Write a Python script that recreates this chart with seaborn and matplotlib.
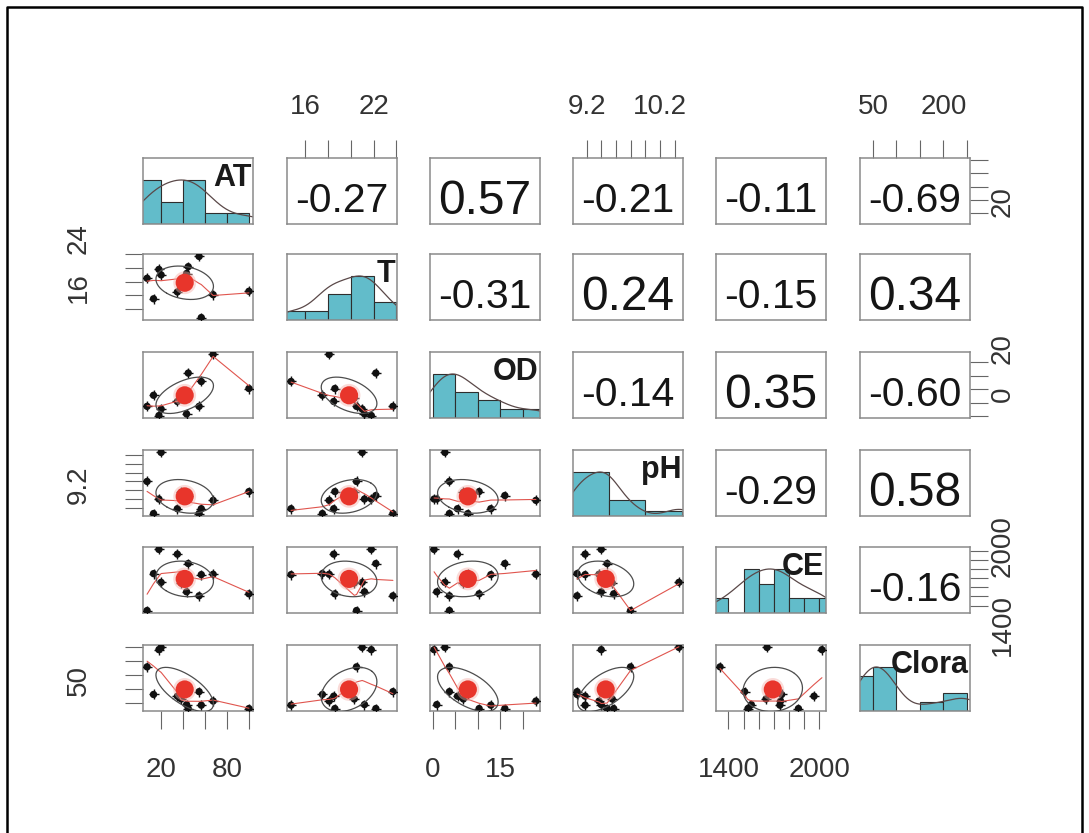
import numpy as np
import pandas as pd
import matplotlib
matplotlib.use("Agg")
import matplotlib.pyplot as plt
import seaborn as sns
from matplotlib.transforms import ScaledTranslation
from matplotlib.lines import Line2D

# ---------------- data ----------------
variables = ["AT", "T", "OD", "pH", "CE", "Clora"]
AT    = [54.4, 17.8, 19.8, 7.0, 44.5, 34.6, 67.2, 99.8, 12.9, 56.4, 38.0, 43.0]
T     = [23.7, 21.8, 21.0, 20.5, 22.2, 18.5, 18.1, 18.6, 17.5, 14.75, 20.3, 21.2]
OD    = [3.7, 0.3, 2.7, 3.7, 16.0, 5.5, 22.9, 10.3, 7.8, 12.9, 6.8, 0.9]
pH    = [9.07, 9.40, 10.46, 9.80, 9.48, 9.18, 9.37, 9.57, 9.07, 9.18, 9.55, 9.40]
CE    = [1507, 2017, 1655, 1345, 1862, 1965, 1744, 1529, 1751, 1740, 1648, 1551]
Clora = [91, 240, 248, 179, 31, 75, 57.6, 31, 81, 43, 65, 45]

# correlation labels shown in the upper panels (row variable -> later columns)
cor_AT = [-0.27, 0.57, -0.21, -0.11, -0.69]
cor_T = [-0.31, 0.24, -0.15, 0.34]
cor_OD = [-0.14, 0.35, -0.60]
cor_pH = [-0.29, 0.58]
cor_CE = [-0.16]

# histogram bin edges
AT_bins = [0, 20, 40, 60, 80, 100]
T_bins = [14, 16, 18, 20, 22, 24]
OD_bins = [0, 5, 10, 15, 20, 25]
pH_bins = [9.0, 9.5, 10.0, 10.5]
CE_bins = [1300, 1400, 1500, 1600, 1700, 1800, 1900, 2000, 2100]
Clora_bins = [0, 50, 100, 150, 200, 250]

# axis ticks and their labels
AT_ticks = [20, 40, 60, 80, 100]
T_ticks = [16, 18, 20, 22, 24]
OD_ticks = [0, 5, 10, 15, 20]
pH_ticks = [9.2, 9.4, 9.6, 9.8, 10.0, 10.2, 10.4]
CE_ticks = [1400, 1500, 1600, 1700, 1800, 1900, 2000]
Clora_ticks = [50, 100, 150, 200, 250]

bottom_labels = {"AT": ["20", "", "", "80", ""],
                 "OD": ["0", "", "", "15", ""],
                 "CE": ["1400", "", "", "", "", "", "2000"]}
top_labels = {"T": ["16", "", "", "22", ""],
              "pH": ["9.2", "", "", "", "", "10.2", ""],
              "Clora": ["50", "", "", "200", ""]}
left_labels = {"T": ["16", "", "", "", "24"],
               "pH": ["9.2", "", "", "", "", "", ""],
               "Clora": ["50", "", "", "", ""]}
right_labels = {"AT": ["20", "", "", "", ""],
                "OD": ["0", "", "", "", "20"],
                "CE": ["1400", "", "", "", "", "", "2000"]}

# layout: vertical lift (px) of the rotated side labels, as in the picture
left_lift = {"T": [21, 0, 0, 0, 16], "pH": [23, 0, 0, 0, 0, 0, 0], "Clora": [23, 0, 0, 0, 0]}
right_lift = {"AT": [11, 0, 0, 0, 0], "OD": [22, 0, 0, 0, 14], "CE": [-19, 0, 0, 0, 0, 0, 5]}

# ---------------- assemble ----------------
df = pd.DataFrame({"AT": AT, "T": T, "OD": OD, "pH": pH, "CE": CE, "Clora": Clora})
cors = {"AT": cor_AT, "T": cor_T, "OD": cor_OD, "pH": cor_pH, "CE": cor_CE}
bins = {"AT": AT_bins, "T": T_bins, "OD": OD_bins, "pH": pH_bins, "CE": CE_bins, "Clora": Clora_bins}
ticks = {"AT": AT_ticks, "T": T_ticks, "OD": OD_ticks, "pH": pH_ticks, "CE": CE_ticks, "Clora": Clora_ticks}

sns.set_style("white")
plt.rcParams["font.family"] = ["Liberation Sans", "DejaVu Sans"]

W, H = 1089, 833
DPI = 100
fig = plt.figure(figsize=(W / DPI, H / DPI), dpi=DPI)
fig.patch.set_facecolor("white")

col_left = [143, 287, 430, 573, 716, 860]
row_top = [158, 254, 352, 450, 547, 645]
pw, ph = 110, 66

hist_col = "#62BCCA"
box_col = "#8a8a8a"
tick_col = "#666666"
lab_col = "#333333"


def lim_of(v):
    v = np.asarray(v, float)
    r = v.max() - v.min()
    return v.min() - 0.04 * r, v.max() + 0.04 * r


lims = {k: lim_of(df[k]) for k in variables}


def lowess(x, y, f=2 / 3, iters=3):
    x = np.asarray(x, float)
    y = np.asarray(y, float)
    o = np.argsort(x, kind="mergesort")
    x, y = x[o], y[o]
    n = len(x)
    r = int(np.ceil(f * n))
    h = np.array([np.sort(np.abs(x - x[i]))[r - 1] for i in range(n)])
    h = np.maximum(h, 1e-12)
    w = np.clip(np.abs((x[None, :] - x[:, None]) / h[:, None]), 0, 1)
    w = (1 - w ** 3) ** 3
    yest = np.zeros(n)
    delta = np.ones(n)
    for _ in range(iters + 1):
        for i in range(n):
            wi = delta * w[i]
            A = np.vstack([np.ones(n), x]).T * np.sqrt(wi)[:, None]
            b = y * np.sqrt(wi)
            beta = np.linalg.lstsq(A, b, rcond=None)[0]
            yest[i] = beta[0] + beta[1] * x[i]
        res = y - yest
        s = np.median(np.abs(res))
        if s == 0:
            break
        dd = np.clip(res / (6 * s), -1, 1)
        delta = (1 - dd ** 2) ** 2
    return x, yest


def ellipse(xm, ym, xs, ys, r, seg=51):
    a = np.linspace(0, 2 * np.pi, seg + 1)
    th = np.sign(r) / np.sqrt(2) if abs(r) > 0 else 1 / np.sqrt(2)
    u = np.cos(a) * np.sqrt(1 + r)
    v = np.sin(a) * np.sqrt(1 - r)
    ex = (u - v) * th
    ey = (u + v) * th
    return ex * xs + xm, ey * ys + ym


def density(v):
    v = np.asarray(v, float)
    n = len(v)
    q75, q25 = np.percentile(v, [75, 25])
    bw = 1.06 * min(v.std(ddof=1), (q75 - q25) / 1.34) * n ** (-0.2)
    g = np.linspace(v.min() - 3 * bw, v.max() + 3 * bw, 512)
    d = np.exp(-0.5 * ((g[:, None] - v[None, :]) / bw) ** 2).sum(axis=1)
    return g, d / d.max()


renderer = fig.canvas.get_renderer()
axes = {}
for i, yv in enumerate(variables):
    for j, xv in enumerate(variables):
        l, t = col_left[j], row_top[i]
        ax = fig.add_axes([l / W, 1 - (t + ph) / H, pw / W, ph / H])
        axes[(i, j)] = ax
        ax.set_facecolor("white")
        for s in ax.spines.values():
            s.set_color(box_col)
            s.set_linewidth(1.1)
        ax.set_xlim(*lims[xv])
        if i == j:
            cnt, _ = np.histogram(df[xv], bins=bins[xv])
            sns.histplot(x=df[xv], bins=bins[xv], stat="count", color=hist_col,
                         edgecolor="#2e2e2e", linewidth=0.8, alpha=1, ax=ax)
            g, d = density(df[xv])
            ax.plot(g, d * cnt.max(), color="#5a4848", lw=0.9)
            ax.set_ylim(0, 1.5 * cnt.max())
            ax.text(0.985, 0.70, xv, transform=ax.transAxes, ha="right", va="center",
                    fontsize=22, fontweight="bold", color="#1a1a1a", zorder=6,
                    clip_on=False)
        elif i > j:
            ax.set_ylim(*lims[yv])
            x = df[xv].to_numpy(float)
            y = df[yv].to_numpy(float)
            sns.scatterplot(x=x, y=y, ax=ax, color="#111111", s=28, edgecolor="none",
                            linewidth=0, zorder=3)
            sns.scatterplot(x=x, y=y, ax=ax, color="#111111", s=55, marker="+",
                            linewidth=1.0, zorder=3)
            lx, ly = lowess(x, y)
            ax.plot(lx, ly, color="#E0554E", lw=0.8, zorder=4)
            r = np.corrcoef(x, y)[0, 1]
            ex, ey = ellipse(x.mean(), y.mean(), x.std(ddof=1), y.std(ddof=1), r)
            ax.plot(ex, ey, color="#4d4d4d", lw=0.9, zorder=4)
            sns.scatterplot(x=[x.mean()], y=[y.mean()], ax=ax, color="#F4B0AA", s=270,
                            edgecolor="none", alpha=0.45, zorder=5)
            sns.scatterplot(x=[x.mean()], y=[y.mean()], ax=ax, color="#E8352B", s=170,
                            edgecolor="none", zorder=6)
        else:
            ax.set_ylim(*lims[yv])
            val = cors[yv][j - i - 1]
            txt = f"{val:.2f}"
            tt = ax.text(0.5, 0.5, txt, transform=ax.transAxes, ha="center",
                         va="baseline", fontsize=30, color="#151515")
            wpx = tt.get_window_extent(renderer).width
            fs = 30 * 93.0 / wpx
            tt.set_fontsize(fs)
            cap = 0.716 * fs / 72 * DPI
            tt.set_transform(ax.transAxes + ScaledTranslation(0, -(6 + cap / 2) / DPI,
                                                              fig.dpi_scale_trans))
        ax.set_xlabel("")
        ax.set_ylabel("")
        ax.set_xticks([])
        ax.set_yticks([])

tp = dict(direction="out", length=13, width=0.8, color=tick_col,
          labelsize=20, labelcolor=lab_col)

for j, v in enumerate(variables):
    if v in bottom_labels:
        ax = axes[(5, j)]
        ax.set_xticks(ticks[v])
        ax.set_xticklabels(bottom_labels[v])
        ax.tick_params(axis="x", pad=20, bottom=True, top=False,
                       labelbottom=True, labeltop=False, **tp)
    if v in top_labels:
        ax = axes[(0, j)]
        ax.set_xticks(ticks[v])
        ax.set_xticklabels(top_labels[v])
        ax.tick_params(axis="x", pad=14, bottom=False, top=True,
                       labelbottom=False, labeltop=True, **tp)


def lift_labels(ax, lifts):
    for lab, dy in zip(ax.get_yticklabels(), lifts):
        lab.set_rotation(90)
        lab.set_va("center")
        lab.set_transform(lab.get_transform() +
                          ScaledTranslation(0, dy / DPI, fig.dpi_scale_trans))


for i, v in enumerate(variables):
    if v in left_labels:
        ax = axes[(i, 0)]
        ax.set_yticks(ticks[v])
        ax.set_yticklabels(left_labels[v])
        ax.tick_params(axis="y", pad=24, left=True, right=False,
                       labelleft=True, labelright=False, **tp)
        lift_labels(ax, left_lift[v])
    if v in right_labels:
        ax = axes[(i, 5)]
        ax.set_yticks(ticks[v])
        ax.set_yticklabels(right_labels[v])
        ax.tick_params(axis="y", pad=1, left=False, right=True,
                       labelleft=False, labelright=True, **tp)
        lift_labels(ax, right_lift[v])

# outer frame
fig.add_artist(Line2D([7 / W, 7 / W, 1082 / W, 1082 / W], [0, 1 - 7 / H, 1 - 7 / H, 0],
                      transform=fig.transFigure, color="black", lw=1.8))

fig.savefig("out.png", dpi=DPI, facecolor="white")
